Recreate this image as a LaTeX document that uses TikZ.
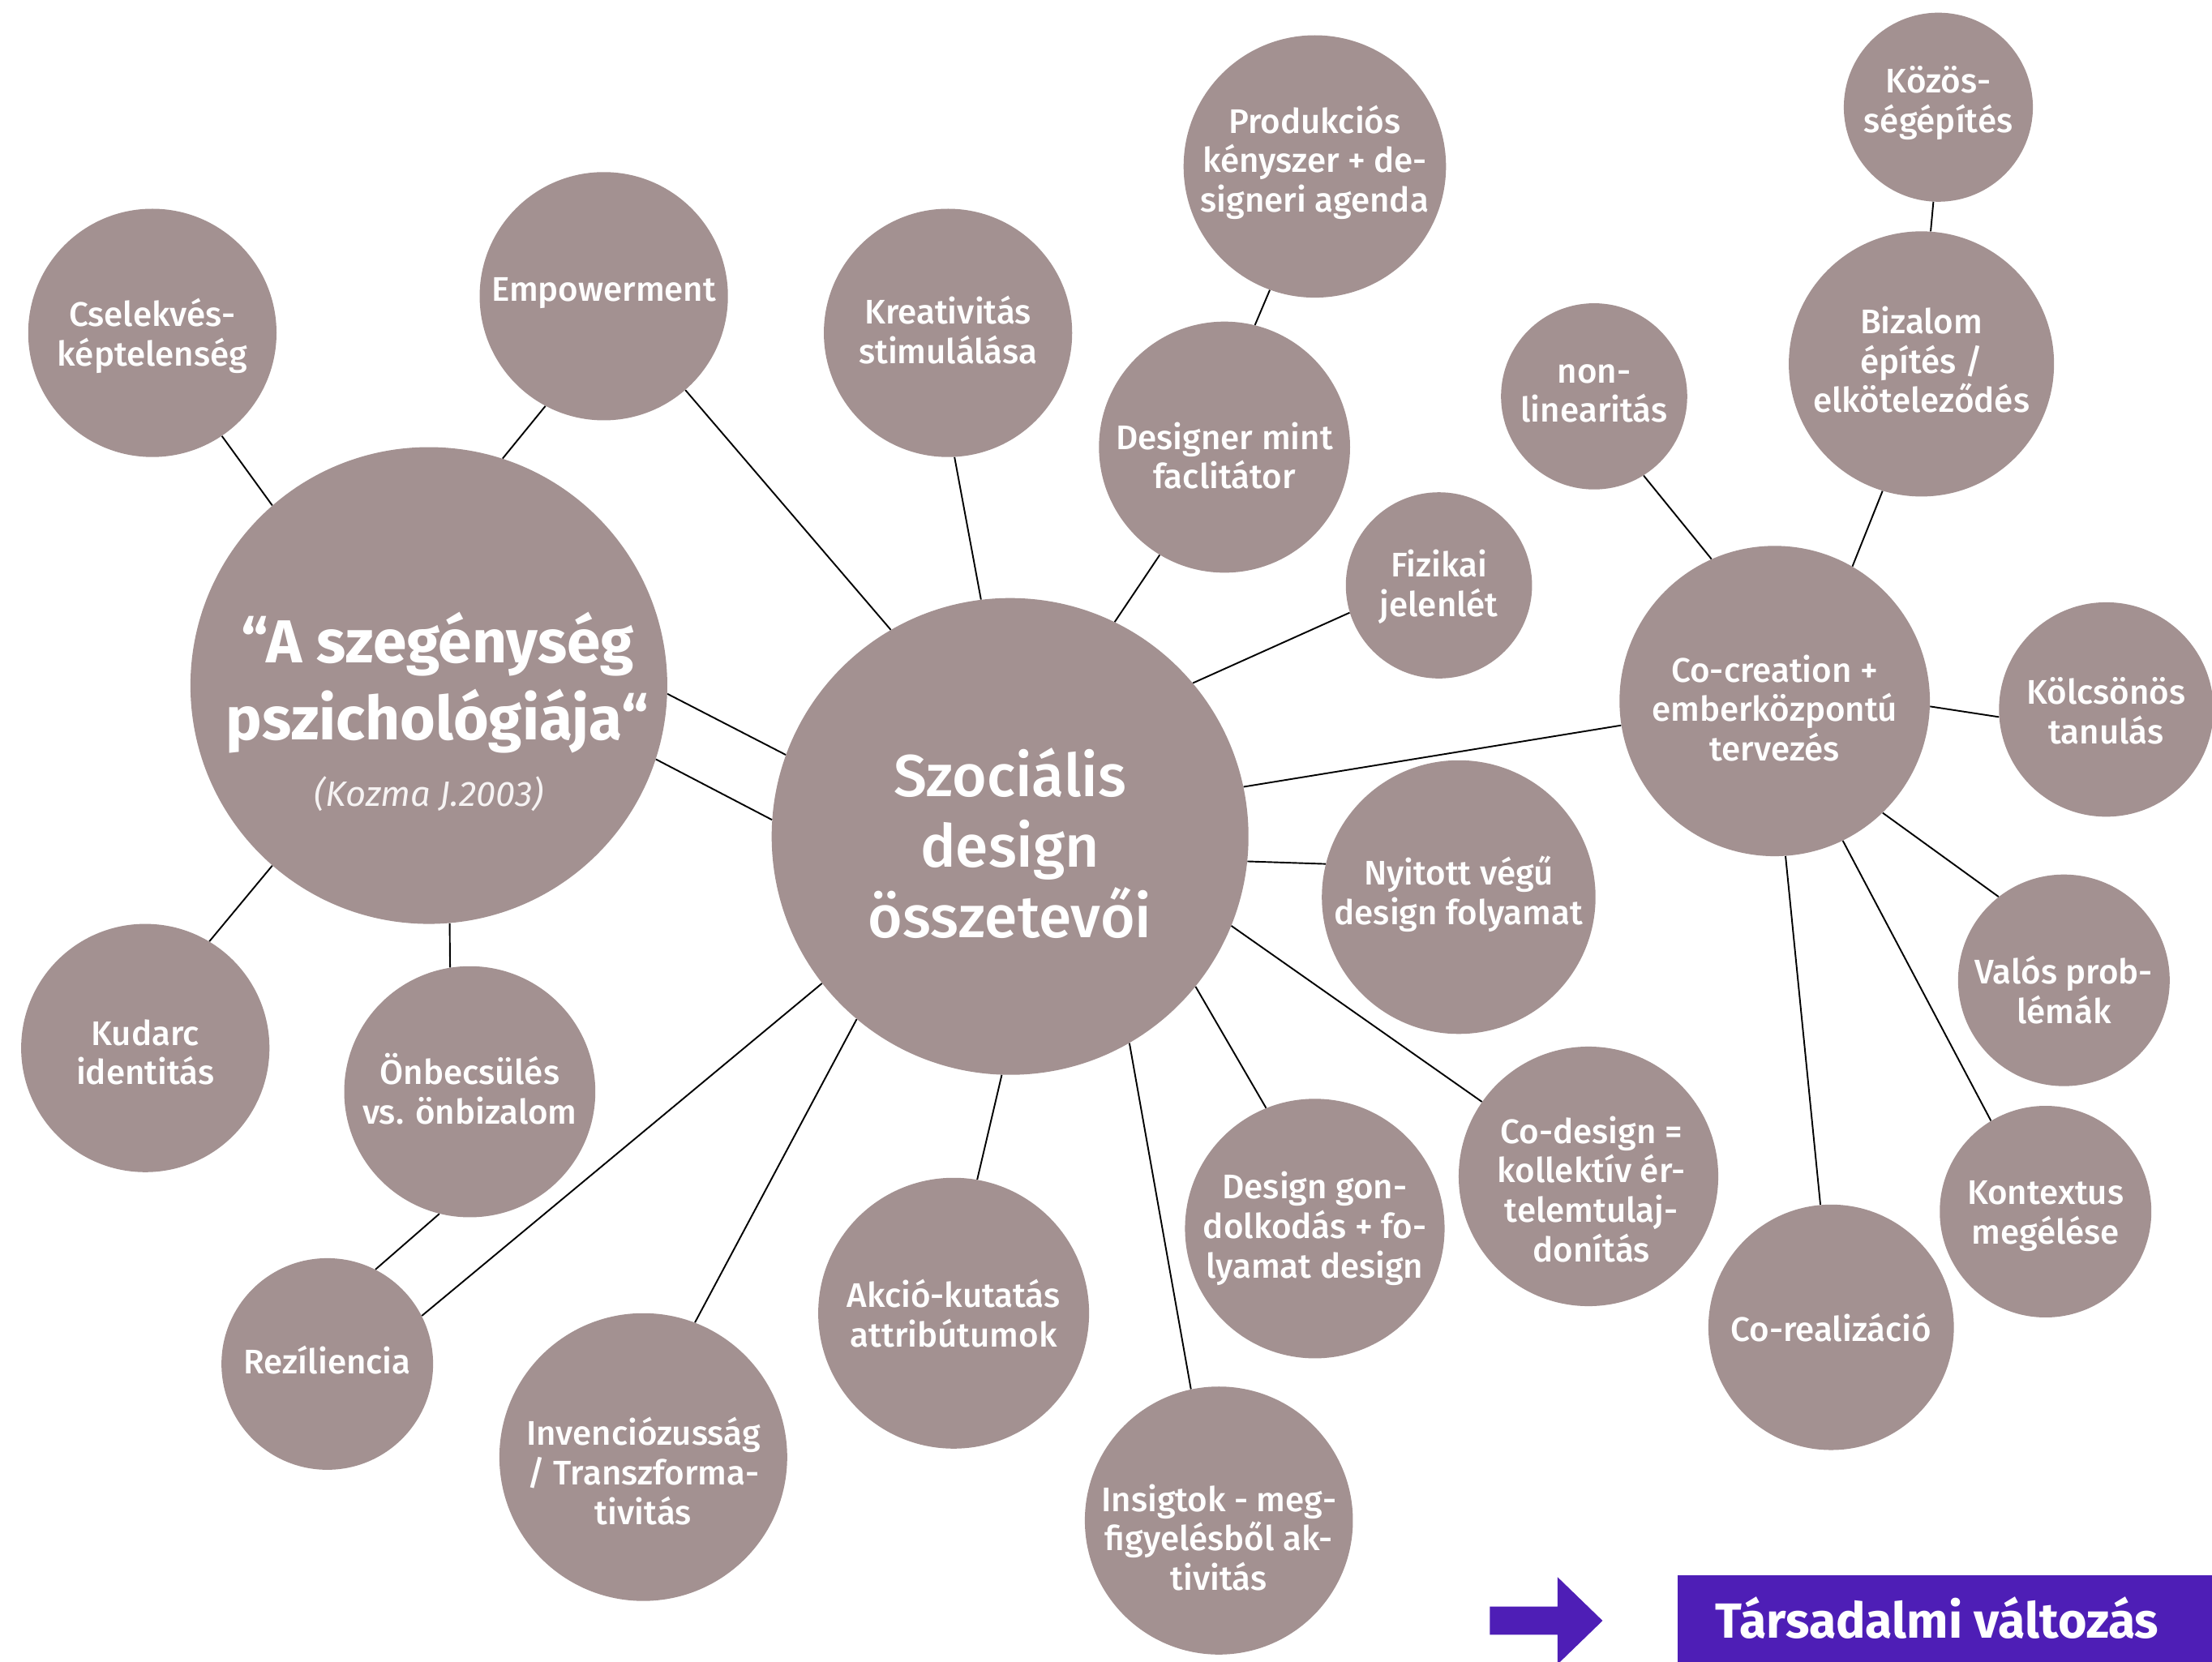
\documentclass[tikz,border=0pt]{standalone}
\usepackage{fontspec}
\setmainfont{Fira Sans}[UprightFont=* Medium, BoldFont=* Bold, ItalicFont=* Italic]
\definecolor{bubfill}{HTML}{A39191}
\definecolor{tvpurple}{HTML}{4E1EB6}
\definecolor{citecol}{HTML}{F6F3F3}
\begin{document}
\begin{tikzpicture}[x=1pt,y=-1pt,
  bubble/.style={circle, fill=bubfill, draw=none, inner sep=0pt},
  btxt/.style={text=white, align=center, inner sep=0pt, font=\fontsize{24.2}{28}\selectfont},
  bigtxt/.style={text=white, align=center, inner sep=0pt, font=\fontsize{42}{50}\selectfont},
  link/.style={line width=1.1pt, draw=black}]
\useasboundingbox[fill=white] (0,0) rectangle (1568,1178);

% bubbles
\node[bubble, minimum size=176pt] (csel) at (108,236) {};
\node[bubble, minimum size=176pt] (emp) at (428,210) {};
\node[bubble, minimum size=176pt] (kreat) at (672,236) {};
\node[bubble, minimum size=186pt] (prod) at (932,118) {};
\node[bubble, minimum size=178pt] (desg) at (868,317) {};
\node[bubble, minimum size=132pt] (fiz) at (1020,415) {};
\node[bubble, minimum size=132pt] (nonlin) at (1130,281) {};
\node[bubble, minimum size=134pt] (kozos) at (1374,76) {};
\node[bubble, minimum size=188pt] (biz) at (1362,258) {};
\node[bubble, minimum size=220pt] (cocr) at (1258,497) {};
\node[bubble, minimum size=152pt] (kolcs) at (1493,503) {};
\node[bubble, minimum size=150pt] (valos) at (1463,695) {};
\node[bubble, minimum size=150pt] (kont) at (1450,859) {};
\node[bubble, minimum size=174pt] (coreal) at (1298,941) {};
\node[bubble, minimum size=184pt] (codes) at (1126,834) {};
\node[bubble, minimum size=184pt] (dgon) at (932,871) {};
\node[bubble, minimum size=194pt] (nyit) at (1034,636) {};
\node[bubble, minimum size=190pt] (ins) at (864,1078) {};
\node[bubble, minimum size=192pt] (akc) at (676,931) {};
\node[bubble, minimum size=204pt] (inv) at (456,1033) {};
\node[bubble, minimum size=150pt] (rez) at (232,967) {};
\node[bubble, minimum size=178pt] (onb) at (333,774) {};
\node[bubble, minimum size=176pt] (kud) at (103,743) {};
\node[bubble, minimum size=338pt] (szeg) at (304,486) {};
\node[bubble, minimum size=338pt] (szoc) at (716,593) {};

% connectors
\draw[link] (csel.-56) -- (szeg.131);
\draw[link] (emp.-118) -- (szeg.72);
\draw[link] (emp.-49) -- (szoc.120);
\draw[link] (kreat.-87) -- (szoc.97);
\draw[link] (prod.-110) -- (desg.76);
\draw[link] (desg.-121) -- (szoc.64);
\draw[link] (fiz.-163) -- (szoc.40);
\draw[link] (nonlin.-58) -- (cocr.114);
\draw[link] (kozos.-93) -- (biz.86);
\draw[link] (biz.-107) -- (cocr.60);
\draw[link] (cocr.-171) -- (szoc.12);
\draw[link] (cocr.-2) -- (kolcs.-176);
\draw[link] (cocr.-46) -- (valos.128);
\draw[link] (cocr.-64) -- (kont.121);
\draw[link] (cocr.-86) -- (coreal.95);
\draw[link] (szoc.-6) -- (nyit.166);
\draw[link] (szoc.-22) -- (codes.145);
\draw[link] (szoc.-39) -- (dgon.112);
\draw[link] (szoc.-60) -- (ins.102);
\draw[link] (szoc.-92) -- (akc.80);
\draw[link] (szoc.-130) -- (inv.69);
\draw[link] (szoc.-142) -- (rez.27);
\draw[link] (szoc.160) -- (szeg.-2);
\draw[link] (szoc.176) -- (szeg.-18);
\draw[link] (szeg.-85) -- (onb.99);
\draw[link] (szeg.-131) -- (kud.59);
\draw[link] (onb.-104) -- (rez.63);

% texts
\node[btxt] (csel-t) at (108,238) {Cselekvés-\\képtelenség};
\node[btxt] (emp-t) at (428,208) {Empowerment};
\node[btxt] (kreat-t) at (672,234) {Kreativitás\\stimulálása};
\node[btxt] (prod-t) at (932,115) {Produkciós\\kényszer + de-\\signeri agenda};
\node[btxt] (desg-t) at (868,323) {Designer mint\\faclitátor};
\node[btxt] (fiz-t) at (1020,416) {Fizikai\\jelenlét};
\node[btxt] (nonlin-t) at (1130,279) {non-\\linearitás};
\node[btxt] (kozos-t) at (1374,73) {Közös-\\ségépítés};
\node[btxt] (biz-t) at (1362,255) {Bizalom\\építés /\\elköteleződés};
\node[btxt] (cocr-t) at (1258,502) {Co-creation +\\emberközpontú\\tervezés};
\node[btxt] (kolcs-t) at (1493,504) {Kölcsönös\\tanulás};
\node[btxt] (valos-t) at (1463,702) {Valós prob-\\lémák};
\node[btxt] (kont-t) at (1450,862) {Kontextus\\megélése};
\node[btxt] (coreal-t) at (1298,941) {Co-realizáció};
\node[btxt] (codes-t) at (1128,843) {Co-design =\\kollektív ér-\\telemtulaj-\\donítás};
\node[btxt] (dgon-t) at (932,871) {Design gon-\\dolkodás + fo-\\lyamat design};
\node[btxt] (nyit-t) at (1034,634) {Nyitott végű\\design folyamat};
\node[btxt] (ins-t) at (864,1090) {Insigtok - meg-\\figyelésből ak-\\tivitás};
\node[btxt] (akc-t) at (676,931) {Akció-kutatás\\attribútumok};
\node[btxt] (inv-t) at (456,1043) {Invenciózusság\\/ Transzforma-\\tivitás};
\node[btxt] (rez-t) at (232,964) {Rezíliencia};
\node[btxt] (onb-t) at (333,772) {Önbecsülés\\vs. önbizalom};
\node[btxt] (kud-t) at (103,746) {Kudarc\\identitás};
\node[bigtxt] (szoc-t) at (716,598) {Szociális\\design\\összetevői};
\node[text=white, align=center, inner sep=0pt, font=\fontsize{43}{55}\selectfont\bfseries] (szeg-t) at (310,484) {“A szegénység\\pszichológiája“};
\node[text=citecol, inner sep=0pt, font=\fontsize{25}{28}\selectfont\itshape] (szeg-c) at (304,563) {(Kozma J.2003)};

% result box and arrow
\fill[tvpurple] (1056,1139) -- (1104,1139) -- (1104,1118) -- (1136,1149) -- (1104,1180) -- (1104,1159) -- (1056,1159) -- cycle;
\node[fill=tvpurple, inner sep=0pt, minimum width=379pt, minimum height=61pt] (tv) at (1378.5,1147.5) {};
\node[text=white, inner sep=0pt, font=\fontsize{35}{40}\selectfont\bfseries] (tv-t) at (1373,1147) {Társadalmi változás};
\end{tikzpicture}
\end{document}
